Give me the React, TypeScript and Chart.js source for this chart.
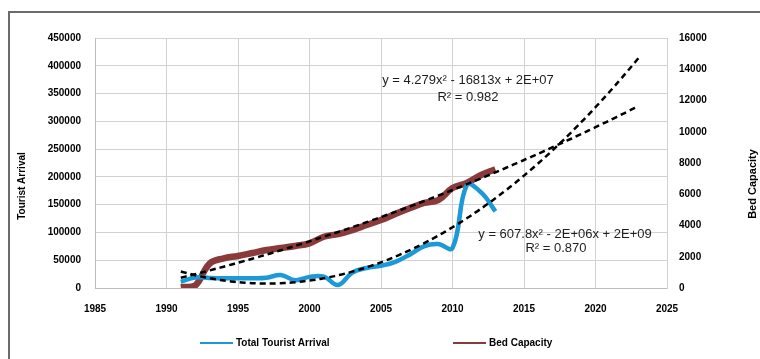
import React, { useEffect, useRef } from "react";
import { Chart, registerables } from "chart.js";

Chart.register(...registerables);

// ---- data ----
const years = [
  1991, 1992, 1993, 1994, 1995, 1996, 1997, 1998, 1999, 2000, 2001, 2002,
  2003, 2004, 2005, 2006, 2007, 2008, 2009, 2010, 2011, 2012, 2013,
];
const touristArrivals = [
  11000, 19000, 18000, 17500, 17500, 17500, 18500, 23500, 14000, 20000, 20500,
  5500, 28000, 36000, 40000, 47000, 60000, 75000, 79000, 72000, 185000, 172000,
  138000,
];
const bedCapacity = [
  50, 150, 1550, 1900, 2050, 2240, 2430, 2560, 2690, 2860, 3280, 3450, 3710,
  4030, 4350, 4740, 5100, 5440, 5630, 6400, 6720, 7230, 7600,
];
const xTicks = [1985, 1990, 1995, 2000, 2005, 2010, 2015, 2020, 2025];
const leftTicks = [0, 50000, 100000, 150000, 200000, 250000, 300000, 350000, 400000, 450000];
const rightTicks = [0, 2000, 4000, 6000, 8000, 10000, 12000, 14000, 16000];
const trendForecastEnd = 2023;

const touristLabel = "Total Tourist Arrival";
const bedLabel = "Bed Capacity";
const leftTitle = "Tourist Arrival";
const rightTitle = "Bed Capacity";
const bedEquation = "y = 4.279x² - 16813x + 2E+07";
const bedR2 = "R² = 0.982";
const touristEquation = "y = 607.8x² - 2E+06x + 2E+09";
const touristR2 = "R² = 0.870";

// ---- least-squares quadratic fit (Excel polynomial trendline, order 2) ----
function quadFit(xs: number[], ys: number[], x0: number) {
  const S = [0, 0, 0, 0, 0];
  const T = [0, 0, 0];
  for (let i = 0; i < xs.length; i++) {
    const t = xs[i] - x0;
    let p = 1;
    for (let k = 0; k < 5; k++) {
      S[k] += p;
      if (k < 3) T[k] += p * ys[i];
      p *= t;
    }
  }
  const M = [
    [S[0], S[1], S[2], T[0]],
    [S[1], S[2], S[3], T[1]],
    [S[2], S[3], S[4], T[2]],
  ];
  for (let c = 0; c < 3; c++) {
    let piv = c;
    for (let r = c + 1; r < 3; r++) if (Math.abs(M[r][c]) > Math.abs(M[piv][c])) piv = r;
    [M[c], M[piv]] = [M[piv], M[c]];
    for (let r = 0; r < 3; r++) {
      if (r === c) continue;
      const f = M[r][c] / M[c][c];
      for (let k = c; k < 4; k++) M[r][k] -= f * M[c][k];
    }
  }
  const a0 = M[0][3] / M[0][0];
  const a1 = M[1][3] / M[1][1];
  const a2 = M[2][3] / M[2][2];
  return (x: number) => {
    const t = x - x0;
    return a0 + a1 * t + a2 * t * t;
  };
}

function trendPoints(xs: number[], ys: number[], end: number) {
  const f = quadFit(xs, ys, 2000);
  const pts: { x: number; y: number }[] = [];
  for (let x = xs[0]; x <= end + 1e-9; x += 0.5) pts.push({ x, y: f(x) });
  return pts;
}

const BLUE = "#1b9ad7";
const BROWN = "#8a3a3a";
const FONT = '"Liberation Sans", Arial, sans-serif';

const overlayPlugin = {
  id: "overlay",
  afterDatasetsDraw(chart: any) {
    const ctx = chart.ctx as CanvasRenderingContext2D;
    ctx.save();
    // trendline equations
    ctx.font = `13px ${FONT}`;
    ctx.fillStyle = "#1e1e1e";
    ctx.textAlign = "center";
    ctx.textBaseline = "middle";
    ctx.fillText(bedEquation, 468, 80);
    ctx.fillText(bedR2, 468, 97);
    ctx.fillText(touristEquation, 565, 234);
    ctx.fillText(touristR2, 556, 248);

    // axis titles
    ctx.font = `bold 10px ${FONT}`;
    ctx.fillStyle = "#000";
    ctx.save();
    ctx.translate(22, 186);
    ctx.rotate(-Math.PI / 2);
    ctx.fillText(leftTitle, 0, 0);
    ctx.restore();
    ctx.save();
    ctx.font = `bold 11px ${FONT}`;
    ctx.translate(753, 184);
    ctx.rotate(-Math.PI / 2);
    ctx.fillText(rightTitle, 0, 0);
    ctx.restore();

    // legend
    const ly = 343;
    ctx.lineWidth = 2;
    ctx.strokeStyle = BLUE;
    ctx.beginPath();
    ctx.moveTo(200, ly);
    ctx.lineTo(233, ly);
    ctx.stroke();
    ctx.strokeStyle = BROWN;
    ctx.beginPath();
    ctx.moveTo(453, ly);
    ctx.lineTo(486, ly);
    ctx.stroke();
    ctx.font = `bold 10px ${FONT}`;
    ctx.textAlign = "left";
    ctx.fillStyle = "#000";
    ctx.fillText(touristLabel, 236, ly);
    ctx.fillText(bedLabel, 489, ly);
    ctx.restore();
  },
};

export default function App() {
  const ref = useRef<HTMLCanvasElement | null>(null);

  useEffect(() => {
    if (!ref.current) return;
    const tourist = years.map((x, i) => ({ x, y: touristArrivals[i] }));
    const beds = years.map((x, i) => ({ x, y: bedCapacity[i] }));
    const chart = new Chart(ref.current, {
      type: "line",
      data: {
        datasets: [
          {
            label: "Poly. (" + touristLabel + ")",
            data: trendPoints(years, touristArrivals, trendForecastEnd),
            yAxisID: "y",
            borderColor: "#000",
            borderWidth: 2.5,
            borderDash: [6, 4],
            pointRadius: 0,
            tension: 0.3,
            order: 0,
          },
          {
            label: "Poly. (" + bedLabel + ")",
            data: trendPoints(years, bedCapacity, trendForecastEnd),
            yAxisID: "y1",
            borderColor: "#000",
            borderWidth: 2.5,
            borderDash: [6, 4],
            pointRadius: 0,
            tension: 0.3,
            order: 0,
          },
          {
            label: touristLabel,
            data: tourist,
            yAxisID: "y",
            borderColor: BLUE,
            borderWidth: 4.5,
            pointRadius: 0,
            tension: 0.4,
            order: 1,
          },
          {
            label: bedLabel,
            data: beds,
            yAxisID: "y1",
            borderColor: BROWN,
            borderWidth: 6.5,
            pointRadius: 0,
            tension: 0.4,
            order: 2,
          },
        ],
      },
      options: {
        animation: false,
        responsive: false,
        devicePixelRatio: 1,
        layout: { padding: { top: 38, left: 0, right: 0, bottom: 36 } },
        plugins: { legend: { display: false }, tooltip: { enabled: false } },
        scales: {
          x: {
            type: "linear",
            min: xTicks[0],
            max: xTicks[xTicks.length - 1],
            afterBuildTicks: (s: any) => {
              s.ticks = xTicks.map((v) => ({ value: v }));
            },
            afterFit: (s: any) => {
              s.height = 35;
            },
            ticks: {
              callback: (v: any) => String(v),
              font: { family: FONT, size: 10, weight: "bold" },
              color: "#000",
              padding: 15,
              maxRotation: 0,
              autoSkip: false,
            },
            grid: { color: "#d2d2d2", drawTicks: false, lineWidth: 1 },
            border: { color: "#bdbdbd" },
          },
          y: {
            type: "linear",
            position: "left",
            min: 0,
            max: leftTicks[leftTicks.length - 1],
            afterBuildTicks: (s: any) => {
              s.ticks = leftTicks.map((v) => ({ value: v }));
            },
            afterFit: (s: any) => {
              s.width = 95;
            },
            ticks: {
              callback: (v: any) => String(v),
              font: { family: FONT, size: 10, weight: "bold" },
              color: "#000",
              padding: 14,
              autoSkip: false,
            },
            grid: { color: "#d2d2d2", drawTicks: false, lineWidth: 1 },
            border: { color: "#bdbdbd" },
          },
          y1: {
            type: "linear",
            position: "right",
            min: 0,
            max: rightTicks[rightTicks.length - 1],
            afterBuildTicks: (s: any) => {
              s.ticks = rightTicks.map((v) => ({ value: v }));
            },
            afterFit: (s: any) => {
              s.width = 93;
            },
            ticks: {
              callback: (v: any) => String(v),
              font: { family: FONT, size: 10, weight: "bold" },
              color: "#000",
              padding: 12,
              autoSkip: false,
            },
            grid: { drawOnChartArea: false, drawTicks: false },
            border: { color: "#d2d2d2" },
          },
        },
      },
      plugins: [overlayPlugin],
    });
    return () => chart.destroy();
  }, []);

  return (
    <div
      style={{
        position: "absolute",
        left: 0,
        top: 0,
        width: 760,
        height: 359,
        background: "#fff",
        overflow: "hidden",
      }}
    >
      <canvas ref={ref} width={760} height={359} style={{ width: 760, height: 359, display: "block" }} />
      <div
        style={{
          position: "absolute",
          left: 8,
          top: 11,
          width: 760,
          height: 360,
          borderTop: "2px solid #6b6b6b",
          borderLeft: "2px solid #6b6b6b",
          pointerEvents: "none",
        }}
      />
    </div>
  );
}
